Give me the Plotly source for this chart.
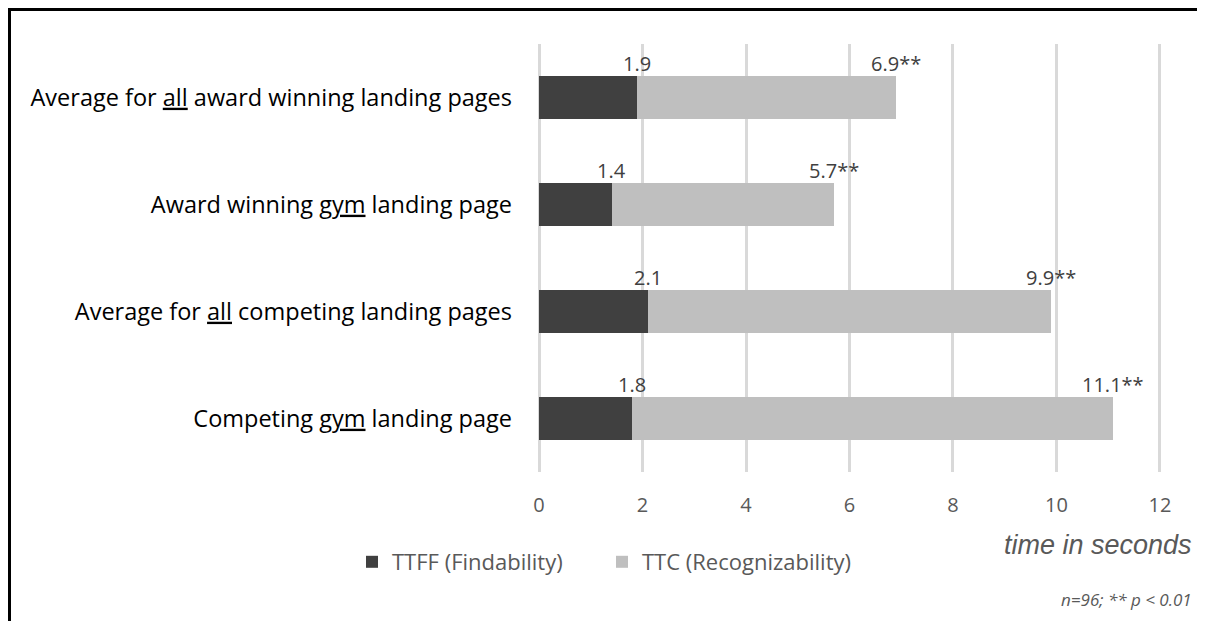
import plotly.graph_objects as go

categories = [
    "Average for <u>all</u> award winning landing pages",
    "Award winning <u>gym</u> landing page",
    "Average for <u>all</u> competing landing pages",
    "Competing <u>gym</u> landing page",
]
ttff = [1.9, 1.4, 2.1, 1.8]
totals = [6.9, 5.7, 9.9, 11.1]
ttc = [round(t - f, 1) for t, f in zip(totals, ttff)]
total_labels = ["6.9**", "5.7**", "9.9**", "11.1**"]
tick_vals = [0, 2, 4, 6, 8, 10, 12]

W, H = 1205, 621
ML, MR, MT, MB = 529, 51, 36, 157
pw = W - ML - MR
ph = H - MT - MB


def px(xf):
    return (xf - ML) / pw


def py(yf):
    return (H - MB - yf) / ph


fig = go.Figure()
fig.add_trace(go.Bar(y=categories, x=ttff, orientation="h", name="TTFF (Findability)",
                     marker=dict(color="#404040", line=dict(width=0))))
fig.add_trace(go.Bar(y=categories, x=ttc, orientation="h", name="TTC (Recognizability)",
                     marker=dict(color="#bfbfbf", line=dict(width=0))))

ann = []
for c, f, t, tl in zip(categories, ttff, totals, total_labels):
    ann.append(dict(x=f, y=c, text=f"{f}", showarrow=False, yshift=34, xanchor="center",
                    font=dict(size=20, color="#404040", family="Open Sans")))
    ann.append(dict(x=t, y=c, text=tl, showarrow=False, yshift=34, xanchor="center",
                    font=dict(size=20, color="#404040", family="Open Sans")))

ann.append(dict(xref="paper", yref="paper", x=px(1186), y=py(537),
                text="<i>time in seconds</i>", showarrow=False, xanchor="right", yanchor="middle",
                font=dict(size=27, color="#595959", family="Liberation Sans")))
ann.append(dict(xref="paper", yref="paper", x=px(1186), y=py(591),
                text="<i>n=96; ** p < 0.01</i>", showarrow=False, xanchor="right", yanchor="middle",
                font=dict(size=17, color="#595959", family="Open Sans")))

shapes = [
    dict(type="line", xref="paper", yref="paper", x0=px(0), x1=px(W + 5), y0=py(1.5), y1=py(1.5),
         line=dict(color="black", width=3)),
    dict(type="line", xref="paper", yref="paper", x0=px(1.5), x1=px(1.5), y0=py(0), y1=py(H + 5),
         line=dict(color="black", width=3)),
]

fig.update_layout(
    barmode="stack",
    width=W, height=H,
    margin=dict(l=ML, r=MR, t=MT, b=MB),
    paper_bgcolor="white", plot_bgcolor="white",
    bargap=0.6,
    font=dict(family="Open Sans", color="#404040"),
    xaxis=dict(range=[-0.04, 12.04], tickvals=tick_vals, showgrid=True, gridcolor="#d9d9d9",
               gridwidth=2.5, zeroline=False, showline=False, ticks="", ticklabelstandoff=19,
               tickfont=dict(size=20, color="#595959")),
    yaxis=dict(categoryorder="array", categoryarray=categories, autorange="reversed",
               showgrid=False, zeroline=False, ticks="", ticklabelstandoff=24,
               tickfont=dict(size=23.5, color="#000000")),
    legend=dict(orientation="h", x=px(344), y=py(554), xanchor="left", yanchor="middle",
                traceorder="normal", entrywidth=205, entrywidthmode="pixels",
                font=dict(size=22, color="#595959")),
    annotations=ann,
    shapes=shapes,
)
fig.write_html("out.html")
